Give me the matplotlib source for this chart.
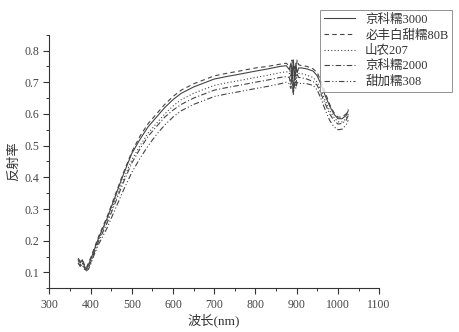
import matplotlib
matplotlib.use("Agg")
import matplotlib.pyplot as plt
from matplotlib.ticker import MultipleLocator

plt.rcParams['font.family'] = ['Liberation Serif', 'Noto Sans CJK SC']

# wavelength (nm)
wl = [370, 375, 380, 385, 390, 395, 400, 410, 420, 440, 460, 480,
      500, 520, 540, 560, 580, 600, 620, 650, 680, 700, 730, 760,
      800, 830, 860, 875, 882, 886, 889, 892, 895, 898, 901, 905,
      912, 925, 940, 950, 960, 970, 980, 990, 1000, 1010, 1020, 1025]

jk3000 = [0.14, 0.13, 0.14, 0.12, 0.11, 0.125, 0.14, 0.175, 0.21, 0.27, 0.34, 0.41,
          0.475, 0.52, 0.56, 0.59, 0.62, 0.645, 0.665, 0.685, 0.70, 0.71, 0.718, 0.725,
          0.735, 0.742, 0.75, 0.752, 0.74, 0.76, 0.70, 0.77, 0.71, 0.76, 0.73, 0.745,
          0.745, 0.742, 0.735, 0.72, 0.69, 0.655, 0.625, 0.60, 0.585, 0.585, 0.595, 0.61]

bf80b = [0.145, 0.135, 0.14, 0.125, 0.115, 0.13, 0.145, 0.18, 0.215, 0.275, 0.345, 0.415,
         0.48, 0.53, 0.57, 0.60, 0.63, 0.655, 0.675, 0.695, 0.71, 0.72, 0.728, 0.735,
         0.745, 0.75, 0.757, 0.76, 0.75, 0.72, 0.77, 0.66, 0.75, 0.72, 0.77, 0.755,
         0.752, 0.75, 0.742, 0.73, 0.70, 0.665, 0.63, 0.605, 0.59, 0.59, 0.60, 0.615]

sn207 = [0.135, 0.125, 0.135, 0.115, 0.11, 0.12, 0.135, 0.17, 0.205, 0.262, 0.33, 0.395,
         0.455, 0.50, 0.54, 0.57, 0.60, 0.625, 0.645, 0.665, 0.68, 0.69, 0.698, 0.705,
         0.715, 0.722, 0.73, 0.733, 0.73, 0.70, 0.74, 0.68, 0.73, 0.70, 0.74, 0.728,
         0.727, 0.722, 0.715, 0.70, 0.67, 0.64, 0.61, 0.59, 0.575, 0.575, 0.585, 0.60]

jk2000 = [0.13, 0.12, 0.13, 0.115, 0.105, 0.115, 0.13, 0.165, 0.20, 0.255, 0.32, 0.385,
          0.445, 0.49, 0.53, 0.56, 0.59, 0.612, 0.63, 0.65, 0.665, 0.675, 0.683, 0.69,
          0.70, 0.707, 0.715, 0.718, 0.715, 0.69, 0.73, 0.67, 0.72, 0.69, 0.725, 0.715,
          0.714, 0.71, 0.702, 0.69, 0.66, 0.63, 0.60, 0.58, 0.568, 0.57, 0.58, 0.595]

tj308 = [0.13, 0.12, 0.125, 0.11, 0.105, 0.11, 0.125, 0.16, 0.19, 0.24, 0.30, 0.36,
         0.415, 0.46, 0.50, 0.535, 0.565, 0.59, 0.61, 0.63, 0.645, 0.655, 0.663, 0.67,
         0.68, 0.687, 0.695, 0.70, 0.695, 0.68, 0.70, 0.66, 0.70, 0.68, 0.70, 0.695,
         0.697, 0.695, 0.69, 0.675, 0.645, 0.61, 0.58, 0.56, 0.55, 0.552, 0.565, 0.58]

series = [jk3000, bf80b, sn207, jk2000, tj308]
labels = ["京科糯3000", "必丰白甜糯80B", "山农207", "京科糯2000", "甜加糯308"]
styles = ['-', (0, (4, 3)), (0, (1, 2)), (0, (5, 2, 1, 2)), (0, (5, 2, 1, 2, 1, 2))]

fig = plt.figure(figsize=(4.59, 3.32), dpi=100)
ax = fig.add_axes([0.1074, 0.1316, 0.7186, 0.764])

for y, lab, ls in zip(series, labels, styles):
    ax.plot(wl, y, color='#444444', linestyle=ls, linewidth=0.8, label=lab)

ax.set_xlim(300, 1100)
ax.set_ylim(0.05, 0.85)
ax.xaxis.set_major_locator(MultipleLocator(100))
ax.xaxis.set_minor_locator(MultipleLocator(50))
ax.yaxis.set_major_locator(MultipleLocator(0.1))
ax.yaxis.set_minor_locator(MultipleLocator(0.05))
ax.set_yticks([0.1, 0.2, 0.3, 0.4, 0.5, 0.6, 0.7, 0.8])

for s in ['top', 'right']:
    ax.spines[s].set_visible(False)
for s in ['left', 'bottom']:
    ax.spines[s].set_color('#333333')
    ax.spines[s].set_linewidth(0.8)

ax.tick_params(which='major', direction='out', length=4, width=0.8,
               labelsize=8.5, colors='#333333', labelcolor='#444444')
ax.tick_params(which='minor', direction='out', length=2.5, width=0.7, colors='#333333')

ax.set_xlabel("波长(nm)", fontsize=9.5, color='#333333', labelpad=2)
ax.set_ylabel("反射率", fontsize=9.5, color='#333333', labelpad=3)

leg = fig.legend(loc='upper right', bbox_to_anchor=(0.985, 0.97), fontsize=9,
                 frameon=True, fancybox=False, handlelength=2.5, labelspacing=0.28,
                 borderpad=0.3, handletextpad=0.8, borderaxespad=0)
leg.get_frame().set_edgecolor('#777777')
leg.get_frame().set_linewidth(0.7)
for t in leg.get_texts():
    t.set_color('#333333')

fig.savefig("out.png", dpi=100)
